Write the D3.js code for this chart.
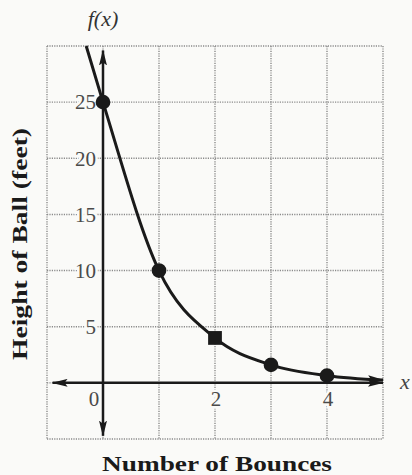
<!DOCTYPE html>
<html>
<head>
<meta charset="utf-8">
<script src="https://cdn.jsdelivr.net/npm/d3@7"></script>
<style>
  body { margin: 0; background: #fafaf8; }
  svg { display: block; }
</style>
</head>
<body>
<script>
// data
const bounces = [0, 1, 2, 3, 4];
const heights = [25, 10, 4, 1.6, 0.64];
const markerShapes = ["circle", "circle", "square", "circle", "circle"];
// curve trace (ends)
const curveX = [-0.3, 0, 1, 2, 3, 4, 5];
const curveY = [30, 25, 10, 4, 1.6, 0.64, 0.25];
const xGrid = [-1, 0, 1, 2, 3, 4, 5];
const yGrid = [-5, 0, 5, 10, 15, 20, 25, 30];
const xTickLabels = [0, 2, 4];
const yTickLabels = [5, 10, 15, 20, 25];

const width = 412, height = 475;
const ink = "#1a1a1a";
const serif = "'Liberation Serif', 'Times New Roman', 'DejaVu Serif', serif";

const svg = d3.select("body").append("svg")
    .attr("width", width)
    .attr("height", height);

const x = d3.scaleLinear().domain([-1, 5]).range([47, 383]);
const y = d3.scaleLinear().domain([-5, 30]).range([439, 46]);

// arrow head marker
const defs = svg.append("defs");
defs.append("marker")
    .attr("id", "arrow")
    .attr("viewBox", "0 0 16 8")
    .attr("refX", 15)
    .attr("refY", 4)
    .attr("markerUnits", "userSpaceOnUse")
    .attr("markerWidth", 16)
    .attr("markerHeight", 8)
    .attr("orient", "auto-start-reverse")
    .append("path")
    .attr("d", "M0,0 L16,4 L0,8 L3,4 Z")
    .attr("fill", ink);

// dotted grid
const grid = svg.append("g")
    .attr("stroke", "#8a8a8a")
    .attr("stroke-width", 1.4)
    .attr("stroke-dasharray", "1.2,1.2");
grid.selectAll(".vline")
    .data(xGrid)
    .join("line")
    .attr("x1", d => x(d)).attr("x2", d => x(d))
    .attr("y1", y(30)).attr("y2", y(-5));
grid.selectAll(".hline")
    .data(yGrid)
    .join("line")
    .attr("x1", x(-1)).attr("x2", x(5))
    .attr("y1", d => y(d)).attr("y2", d => y(d));

// tick labels, with a paper-coloured halo that breaks the grid
const labelStyle = sel => sel
    .attr("font-family", serif)
    .attr("font-size", 21)
    .attr("fill", "#4a4a4a")
    .attr("stroke", "#fafaf8")
    .attr("stroke-width", 5)
    .attr("paint-order", "stroke");

svg.append("g").selectAll("text")
    .data(yTickLabels)
    .join("text")
    .attr("x", x(0) - 7)
    .attr("y", d => y(d))
    .attr("dy", "0.35em")
    .attr("text-anchor", "end")
    .text(d => d)
    .call(labelStyle);

svg.append("g").selectAll("text")
    .data(xTickLabels)
    .join("text")
    .attr("x", d => d === 0 ? x(d) - 9 : x(d) + 1)
    .attr("y", y(0) + 23)
    .attr("text-anchor", "middle")
    .text(d => d)
    .call(labelStyle);

// axes with arrows at both ends
svg.append("line")
    .attr("x1", x(-0.9)).attr("x2", x(5))
    .attr("y1", y(0)).attr("y2", y(0))
    .attr("stroke", ink)
    .attr("stroke-width", 2.5)
    .attr("marker-start", "url(#arrow)")
    .attr("marker-end", "url(#arrow)");
svg.append("line")
    .attr("x1", x(0)).attr("x2", x(0))
    .attr("y1", y(29.6)).attr("y2", y(-4.7))
    .attr("stroke", ink)
    .attr("stroke-width", 2.5)
    .attr("marker-start", "url(#arrow)")
    .attr("marker-end", "url(#arrow)");

// decay curve
const curvePts = curveX.map((d, i) => [d, curveY[i]]);
svg.append("path")
    .datum(curvePts)
    .attr("fill", "none")
    .attr("stroke", ink)
    .attr("stroke-width", 3)
    .attr("marker-end", "url(#arrow)")
    .attr("d", d3.line()
        .x(d => x(d[0]))
        .y(d => y(d[1]))
        .curve(d3.curveMonotoneX));

// data markers
const pts = bounces.map((d, i) => ({ b: d, h: heights[i], shape: markerShapes[i] }));
svg.append("g").selectAll("path")
    .data(pts)
    .join("path")
    .attr("transform", d => `translate(${x(d.b)},${y(d.h)})`)
    .attr("d", d => d3.symbol()
        .type(d.shape === "square" ? d3.symbolSquare : d3.symbolCircle)
        .size(d.shape === "square" ? 190 : 170)())
    .attr("fill", ink);

// axis names
svg.append("text")
    .attr("x", x(0))
    .attr("y", 26)
    .attr("text-anchor", "middle")
    .attr("font-family", serif)
    .attr("font-style", "italic")
    .attr("font-size", 22)
    .attr("fill", "#333")
    .text("f(x)");

svg.append("text")
    .attr("x", 405)
    .attr("y", y(0) + 6)
    .attr("text-anchor", "middle")
    .attr("font-family", serif)
    .attr("font-style", "italic")
    .attr("font-size", 22)
    .attr("fill", "#444")
    .text("x");

svg.append("text")
    .attr("x", 217)
    .attr("y", 471)
    .attr("text-anchor", "middle")
    .attr("font-family", serif)
    .attr("font-weight", "bold")
    .attr("font-size", 22)
    .attr("textLength", 230)
    .attr("lengthAdjust", "spacingAndGlyphs")
    .attr("fill", ink)
    .text("Number of Bounces");

svg.append("text")
    .attr("transform", "translate(27,244) rotate(-90)")
    .attr("text-anchor", "middle")
    .attr("font-family", serif)
    .attr("font-weight", "bold")
    .attr("font-size", 21)
    .attr("textLength", 232)
    .attr("lengthAdjust", "spacingAndGlyphs")
    .attr("fill", ink)
    .text("Height of Ball (feet)");
</script>
</body>
</html>
